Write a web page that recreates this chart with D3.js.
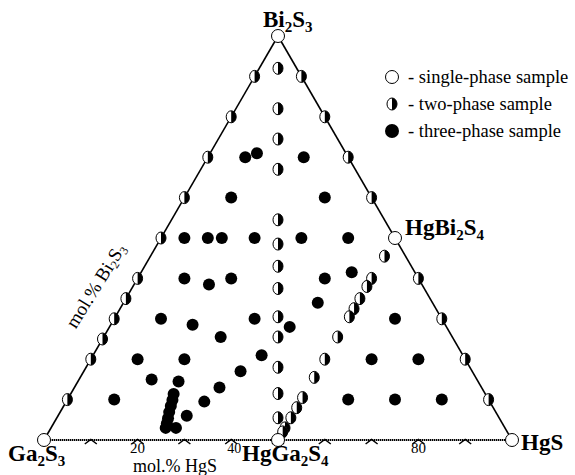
<!DOCTYPE html>
<html>
<head>
<meta charset="utf-8">
<script src="https://cdn.jsdelivr.net/npm/d3@7/dist/d3.min.js"></script>
<style>
  html, body { margin: 0; padding: 0; background: #fff; }
  svg { display: block; }
  text { font-family: "Liberation Serif", "Times New Roman", serif; fill: #000; }
  .vtx { font-weight: bold; font-size: 23px; }
</style>
</head>
<body>
<svg id="chart" width="575" height="475"></svg>
<script>
// Ga2S3 – HgS – Bi2S3 system, compositions as [mol.% HgS, mol.% Bi2S3]
const singlePhase = [
  [0, 0], [100, 0], [0, 100], [50, 0], [50, 50]
];
const twoPhaseGaBi = [10, 20, 25, 30, 35, 40, 50, 60, 70, 80, 90];          // Bi2S3 on Ga2S3–Bi2S3 side
const twoPhaseHgBi = [10, 20, 30, 40, 60, 70, 80, 90];                      // Bi2S3 on HgS–Bi2S3 side
const twoPhaseJoinBi = [92, 82, 74.5, 67, 54.5, 48.5, 43, 37.5, 30.5, 25.5, 18, 11.5, 5.5]; // Bi2S3 on HgGa2S4–Bi2S3 join
const twoPhaseJoinHg = [45.5, 40, 38, 35, 32.5, 30.5, 25.5, 20, 15.5, 10.5, 8, 5.5, 3, 2];  // Bi2S3 on HgGa2S4–HgBi2S4 join
const threePhase = [
  [8, 70], [10, 71], [20.5, 70],
  [10, 60], [30, 60],
  [5, 50], [10, 50], [13, 50], [20, 50], [30, 50], [40, 50],
  [10, 40], [20, 40], [16, 38.5], [40, 40], [45, 41.5],
  [10, 30], [17.5, 28.5], [25, 25.5], [30, 30], [38.5, 28], [41.5, 34], [60, 30],
  [10, 20], [20, 20], [36, 21], [60, 20], [70, 20],
  [15.5, 15], [21.5, 14.5], [33.5, 17],
  [10, 10], [31, 13], [29.5, 9.5], [27.5, 6], [60, 10], [70, 10], [80, 10],
  [22, 11.4], [22.5, 9.9], [22.9, 8.4], [23.3, 6.9], [23.8, 5.4], [24.2, 4.1], [24.5, 3], [26.7, 3]
];
const hgsTicks = [10, 20, 30, 40, 50, 60, 70, 80, 90];
const hgsTickLabels = [20, 40, 80];
const legendItems = ["- single-phase sample", "- two-phase sample", "- three-phase sample"];

const svg = d3.select("#chart");

// ternary geometry: u runs along the Ga2S3–HgS base, v is the Bi2S3 height
const u = d3.scaleLinear().domain([0, 100]).range([44, 512]);
const v = d3.scaleLinear().domain([0, 100]).range([440, 36]);
const px = d => u(d[0] + d[1] / 2);
const py = d => v(d[1]);

const Ga = [0, 0], Hg = [100, 0], Bi = [0, 100];

// sides of the triangle
svg.append("line")
  .attr("x1", px(Ga)).attr("y1", py(Ga)).attr("x2", px(Bi)).attr("y2", py(Bi))
  .attr("stroke", "#000").attr("stroke-width", 1.6);
svg.append("line")
  .attr("x1", px(Hg)).attr("y1", py(Hg)).attr("x2", px(Bi)).attr("y2", py(Bi))
  .attr("stroke", "#000").attr("stroke-width", 1.6);
svg.append("line")
  .attr("x1", px(Ga)).attr("y1", py(Ga)).attr("x2", px(Hg)).attr("y2", py(Hg))
  .attr("stroke", "#000").attr("stroke-width", 2.2).attr("stroke-dasharray", "1.4 0.6");

// caret ticks along the HgS scale
svg.append("g").selectAll("path").data(hgsTicks).join("path")
  .attr("d", t => `M${u(t) - 6},${py(Ga) + 4} L${u(t)},${py(Ga) - 0.5} L${u(t) + 6},${py(Ga) + 4}`)
  .attr("fill", "none").attr("stroke", "#000").attr("stroke-width", 1.5);

svg.append("g").selectAll("text").data(hgsTickLabels).join("text")
  .attr("x", t => t === 40 ? u(t) + 3 : u(t))
  .attr("y", t => t === 40 ? 453 : 453)
  .attr("text-anchor", "middle")
  .attr("font-size", t => t === 40 ? 14 : 15)
  .text(t => t);

svg.append("text").attr("x", 175).attr("y", 472).attr("text-anchor", "middle")
  .attr("font-size", 18).text("mol.% HgS");

// left-side axis title
const leftTitle = svg.append("text")
  .attr("transform", "translate(101,289) rotate(-58)")
  .attr("text-anchor", "middle").attr("font-size", 19);
leftTitle.append("tspan").text("mol.% Bi");
leftTitle.append("tspan").attr("font-size", 12).attr("dy", 3).text("2");
leftTitle.append("tspan").attr("dy", -3).text("S");
leftTitle.append("tspan").attr("font-size", 12).attr("dy", 3).text("3");

// markers
const halfArc = d3.arc().innerRadius(0).outerRadius(1).startAngle(0).endAngle(Math.PI);

function drawHalf(g, x, y) {
  const m = g.append("g").attr("transform", `translate(${x},${y})`);
  m.append("ellipse").attr("rx", 5).attr("ry", 6).attr("fill", "#fff").attr("stroke", "#000").attr("stroke-width", 1);
  m.append("path").attr("d", halfArc()).attr("transform", "scale(5,6)").attr("fill", "#000");
}

const twoPhase = [
  ...twoPhaseGaBi.map(b => [0, b]),
  ...twoPhaseHgBi.map(b => [100 - b, b]),
  ...twoPhaseJoinBi.map(b => [(100 - b) / 2, b]),
  ...twoPhaseJoinHg.map(b => [50, b])
];

const gHalf = svg.append("g");
twoPhase.forEach(d => drawHalf(gHalf, px(d), py(d)));

svg.append("g").selectAll("circle").data(threePhase).join("circle")
  .attr("cx", px).attr("cy", py).attr("r", 6).attr("fill", "#000");

svg.append("g").selectAll("circle").data(singlePhase).join("circle")
  .attr("cx", px).attr("cy", py).attr("r", 6.5)
  .attr("fill", "#fff").attr("stroke", "#000").attr("stroke-width", 1);

// vertex / compound labels: strings are normal runs, one-element arrays are subscripts
function chem(x, y, parts) {
  const t = svg.append("text").attr("class", "vtx").attr("x", x).attr("y", y);
  let shift = 0;
  parts.forEach(p => {
    const isSub = typeof p !== "string";
    const s = t.append("tspan").text(isSub ? p[0] : p).attr("dy", (isSub ? 5 : 0) - shift);
    if (isSub) s.attr("font-size", 15);
    shift = isSub ? 5 : 0;
  });
  return t;
}

chem(263, 27, ["Bi", ["2"], "S", ["3"]]);
chem(8, 461, ["Ga", ["2"], "S", ["3"]]);
chem(242, 461, ["HgGa", ["2"], "S", ["4"]]);
chem(521, 450, ["HgS"]).attr("font-size", 24);
chem(405, 235, ["HgBi", ["2"], "S", ["4"]]);

// legend
const lg = svg.append("g");
const ly = [77, 104, 131];
lg.append("circle").attr("cx", 392).attr("cy", ly[0]).attr("r", 6.5)
  .attr("fill", "#fff").attr("stroke", "#000");
drawHalf(lg, 392, ly[1]);
lg.append("circle").attr("cx", 392).attr("cy", ly[2]).attr("r", 7).attr("fill", "#000");
lg.selectAll("text").data(legendItems).join("text")
  .attr("x", 408).attr("y", (d, i) => ly[i] + 5.5)
  .attr("font-size", 18.5).text(d => d);
</script>
</body>
</html>
